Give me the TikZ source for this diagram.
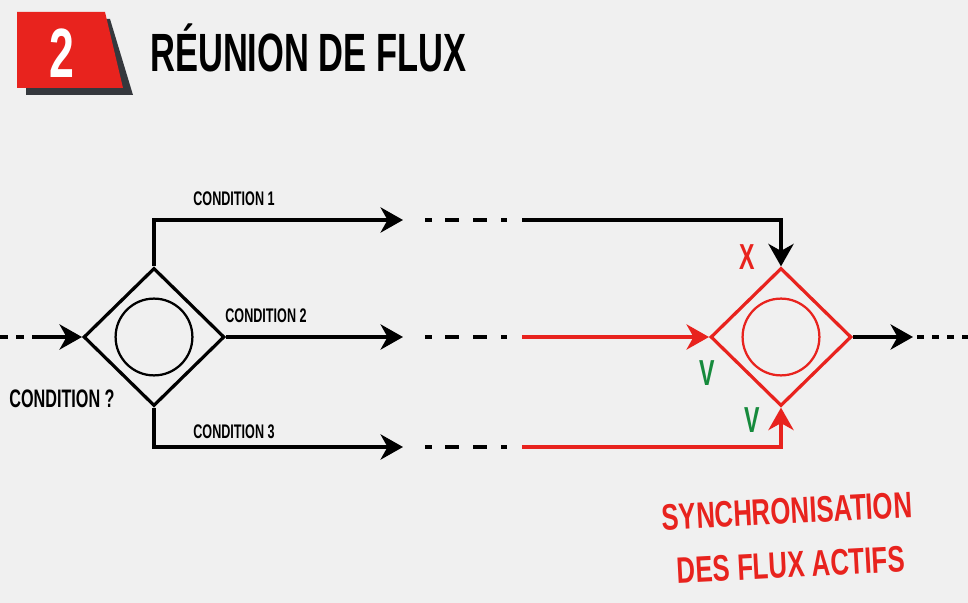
\documentclass[tikz,border=0pt]{standalone}
\usepackage{fontspec}
\setmainfont{Liberation Sans}
\newfontfamily\condfont[FakeStretch=0.64]{Liberation Sans}
\newfontfamily\condwidefont[FakeStretch=0.70]{Liberation Sans}
\usetikzlibrary{arrows.meta,shapes.geometric,calc}

\definecolor{bgGray}{HTML}{F0F0F0}
\definecolor{flowRed}{HTML}{E8231E}
\definecolor{okGreen}{HTML}{168A3C}
\definecolor{shadowGray}{HTML}{35383D}

\tikzset{
  flow/.style={line width=2.2pt,-{Stealth[length=16pt,width=18pt,inset=5pt]}},
  redflow/.style={flow,draw=flowRed},
  gapline/.style={line width=2.2pt},
  gate/.style={diamond,draw,line width=2.3pt,minimum width=3.52cm,minimum height=3.45cm,inner sep=0pt},
  ring/.style={circle,draw,line width=1.6pt,minimum size=1.92cm,inner sep=0pt},
  condlabel/.style={font=\condfont\bfseries\fontsize{14}{15}\selectfont},
  marklabel/.style={font=\condfont\bfseries\fontsize{25.7}{28}\selectfont},
  synclabel/.style={text=flowRed,rotate=3,font=\condwidefont\bfseries\fontsize{26.2}{28}\selectfont}
}

\begin{document}
\begin{tikzpicture}[x=0.025cm,y=-0.025cm]
\path[use as bounding box,fill=bgGray] (0,0) rectangle (968,603);

%標題
\fill[shadowGray] (26,19) -- (110,19) -- (133,95) -- (26,95) -- cycle;
\fill[flowRed] (17,12) -- (105,12) -- (123,88) -- (17,88) -- cycle;
\node[text=white,font=\condfont\bfseries\fontsize{49.6}{52}\selectfont] (tNum) at (62,53) {2};
\node[anchor=base west,inner sep=0pt,font=\condfont\bfseries\fontsize{38.3}{40}\selectfont] (tTitle) at (150,72) {RÉUNION DE FLUX};

%左右兩個菱形
\node[gate] (nSplit) at (154,337) {};
\node[ring] (nSplitRing) at (nSplit.center) {};
\node[gate,draw=flowRed] (nJoin) at (781,337) {};
\node[ring,draw=flowRed] (nJoinRing) at (nJoin.center) {};

\coordinate (cInPt) at (0,337);
\coordinate (cIn2Pt) at (36,337);
\coordinate (cOutPt) at (913,337);
\coordinate (cOut2Pt) at (968,337);

\foreach \i/\y in {1/220,2/337,3/447}
{
    \coordinate (cA\i Pt) at (403,\y);
    \coordinate (cD\i Pt) at (522,\y);
    \foreach \a/\b in {425/432,445/459,473/487,501/507}
    {
        \draw[gapline] (\a,\y) -- (\b,\y);
    };
};

\draw[line width=2.2pt,dash pattern=on 0.2cm off 0.2cm] (cInPt) -- (cIn2Pt);
\draw[flow] (cIn2Pt) -- (nSplit.west);
\draw[flow] (nSplit.north) |- (cA1Pt);
\draw[flow] (nSplit.east) -- (cA2Pt);
\draw[flow] (nSplit.south) |- (cA3Pt);

\draw[flow] (cD1Pt) -| (nJoin.north);
\draw[redflow] (cD2Pt) -- (nJoin.west);
\draw[redflow] (cD3Pt) -| (nJoin.south);
\draw[flow] (nJoin.east) -- (cOutPt);
\draw[line width=2.2pt,dash pattern=on 0.175cm off 0.2cm,dash phase=0.275cm] (cOutPt) -- (cOut2Pt);

%文字
\node[condlabel] (lCond1) at (234,199) {CONDITION 1};
\node[condlabel] (lCond2) at (266,316) {CONDITION 2};
\node[condlabel] (lCond3) at (234,432) {CONDITION 3};
\node[font=\condfont\bfseries\fontsize{18}{20}\selectfont] (lCondQ) at (62,399) {CONDITION ?};

\node[marklabel,text=flowRed] (lX) at (747,257) {X};
\node[marklabel,text=okGreen] (lV1) at (707,373) {V};
\node[marklabel,text=okGreen] (lV2) at (752,420) {V};

\node[synclabel] (lSync1) at (787,511) {SYNCHRONISATION};
\node[synclabel] (lSync2) at (791,565) {DES FLUX ACTIFS};
\end{tikzpicture}
\end{document}
